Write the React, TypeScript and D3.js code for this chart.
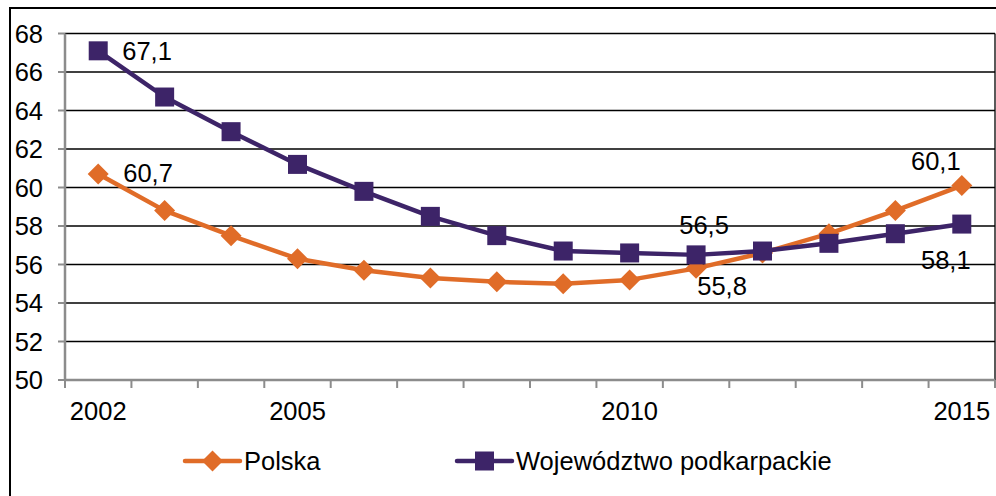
import React, { useEffect, useRef } from 'react'
import * as d3 from 'd3'

const years = ['2002', '2003', '2004', '2005', '2006', '2007', '2008', '2009', '2010', '2011', '2012', '2013', '2014', '2015']
const shownYears = ['2002', '2005', '2010', '2015']
const polska = [60.7, 58.8, 57.5, 56.3, 55.7, 55.3, 55.1, 55.0, 55.2, 55.8, 56.6, 57.6, 58.8, 60.1]
const podkarpackie = [67.1, 64.7, 62.9, 61.2, 59.8, 58.5, 57.5, 56.7, 56.6, 56.5, 56.7, 57.1, 57.6, 58.1]
const yTicks = [50, 52, 54, 56, 58, 60, 62, 64, 66, 68]

const ORANGE = '#E06C28'
const PURPLE = '#3D2468'
const FONT = '"Liberation Sans", Arial, sans-serif'
const FS = 25.5

export default function App() {
  const ref = useRef<SVGSVGElement>(null)

  useEffect(() => {
    if (!ref.current) return
    const svg = d3.select(ref.current)
    svg.selectAll('*').remove()

    const left = 65, right = 995, top = 33.5, bottom = 380

    const x = d3.scaleBand().domain(years).range([left, right]).paddingInner(0).paddingOuter(0)
    const y = d3.scaleLinear().domain([50, 68]).range([bottom, top])
    const cx = (d: string) => (x(d) as number) + x.bandwidth() / 2

    // outer frame
    svg.append('rect')
      .attr('x', 10).attr('y', 8).attr('width', 1000).attr('height', 500)
      .attr('fill', 'none').attr('stroke', '#000').attr('stroke-width', 2)

    // gridlines
    svg.append('g').selectAll('line')
      .data(yTicks.filter(t => t > 50))
      .enter().append('line')
      .attr('x1', left).attr('x2', right)
      .attr('y1', d => y(d)).attr('y2', d => y(d))
      .attr('stroke', '#000').attr('stroke-width', 1.3)

    // right plot border
    svg.append('line')
      .attr('x1', right).attr('x2', right).attr('y1', top).attr('y2', bottom)
      .attr('stroke', '#000').attr('stroke-width', 1.3)

    // y axis
    const yAxis = svg.append('g')
    yAxis.append('line')
      .attr('x1', left).attr('x2', left).attr('y1', top).attr('y2', bottom)
      .attr('stroke', '#8c8c8c').attr('stroke-width', 2.5)
    yAxis.selectAll('.yt').data(yTicks).enter().append('line')
      .attr('x1', left - 7).attr('x2', left).attr('y1', d => y(d)).attr('y2', d => y(d))
      .attr('stroke', '#8c8c8c').attr('stroke-width', 2)
    yAxis.selectAll('text').data(yTicks).enter().append('text')
      .attr('x', 43).attr('y', d => y(d)).attr('dy', '0.36em')
      .attr('text-anchor', 'end')
      .attr('font-family', FONT).attr('font-size', FS)
      .text(d => d)

    // x axis
    const xAxis = svg.append('g')
    xAxis.append('line')
      .attr('x1', left).attr('x2', right).attr('y1', bottom).attr('y2', bottom)
      .attr('stroke', '#8c8c8c').attr('stroke-width', 2.5)
    const bounds = years.map(d => x(d) as number).concat([right])
    xAxis.selectAll('.xt').data(bounds).enter().append('line')
      .attr('x1', d => d).attr('x2', d => d).attr('y1', bottom).attr('y2', bottom + 8)
      .attr('stroke', '#8c8c8c').attr('stroke-width', 2)
    xAxis.selectAll('text').data(shownYears).enter().append('text')
      .attr('x', d => cx(d)).attr('y', 420)
      .attr('text-anchor', 'middle')
      .attr('font-family', FONT).attr('font-size', FS)
      .text(d => d)

    const line = d3.line<number>()
      .x((_, i) => cx(years[i]))
      .y(d => y(d))

    const diamond = (s: number) => `M0,${-s}L${s},0L0,${s}L${-s},0Z`

    // Polska
    svg.append('path').datum(polska)
      .attr('d', line).attr('fill', 'none')
      .attr('stroke', ORANGE).attr('stroke-width', 4.5).attr('stroke-linejoin', 'round')
    svg.append('g').selectAll('path').data(polska).enter().append('path')
      .attr('d', diamond(10.5))
      .attr('transform', (d, i) => `translate(${cx(years[i])},${y(d)})`)
      .attr('fill', ORANGE)

    // Podkarpackie
    svg.append('path').datum(podkarpackie)
      .attr('d', line).attr('fill', 'none')
      .attr('stroke', PURPLE).attr('stroke-width', 4.5).attr('stroke-linejoin', 'round')
    svg.append('g').selectAll('rect').data(podkarpackie).enter().append('rect')
      .attr('x', (d, i) => cx(years[i]) - 9.5).attr('y', d => y(d) - 9.5)
      .attr('width', 19).attr('height', 19)
      .attr('fill', PURPLE)

    // data labels
    const fmt = (v: number) => v.toFixed(1).replace('.', ',')
    const labels = [
      { i: 0, v: podkarpackie[0], dx: 24, dy: 0, anchor: 'start' },
      { i: 0, v: polska[0], dx: 25, dy: -1, anchor: 'start' },
      { i: 9, v: podkarpackie[9], dx: 8, dy: -30, anchor: 'middle' },
      { i: 9, v: polska[9], dx: 26, dy: 17, anchor: 'middle' },
      { i: 13, v: polska[13], dx: -26, dy: -25, anchor: 'middle' },
      { i: 13, v: podkarpackie[13], dx: -16, dy: 36, anchor: 'middle' },
    ]
    svg.append('g').selectAll('text').data(labels).enter().append('text')
      .attr('x', d => cx(years[d.i]) + d.dx)
      .attr('y', d => y(d.v) + d.dy).attr('dy', '0.36em')
      .attr('text-anchor', d => d.anchor)
      .attr('font-family', FONT).attr('font-size', FS)
      .text(d => fmt(d.v))

    // legend
    const legend = [
      { name: 'Polska', color: ORANGE, shape: 'diamond', x0: 185 },
      { name: 'Województwo podkarpackie', color: PURPLE, shape: 'square', x0: 457 },
    ]
    const ly = 461
    legend.forEach(l => {
      const g = svg.append('g')
      g.append('line')
        .attr('x1', l.x0).attr('x2', l.x0 + 55).attr('y1', ly).attr('y2', ly)
        .attr('stroke', l.color).attr('stroke-width', 4.5).attr('stroke-linecap', 'round')
      if (l.shape === 'diamond') {
        g.append('path').attr('d', diamond(10.5))
          .attr('transform', `translate(${l.x0 + 27.5},${ly})`).attr('fill', l.color)
      } else {
        g.append('rect').attr('x', l.x0 + 18).attr('y', ly - 9.5)
          .attr('width', 19).attr('height', 19).attr('fill', l.color)
      }
      g.append('text')
        .attr('x', l.x0 + 59).attr('y', ly).attr('dy', '0.36em')
        .attr('font-family', FONT).attr('font-size', FS)
        .text(l.name)
    })
  }, [])

  return (
    <svg
      ref={ref}
      width={996}
      height={496}
      style={{ position: 'absolute', left: 0, top: 0, background: '#fff' }}
    />
  )
}
